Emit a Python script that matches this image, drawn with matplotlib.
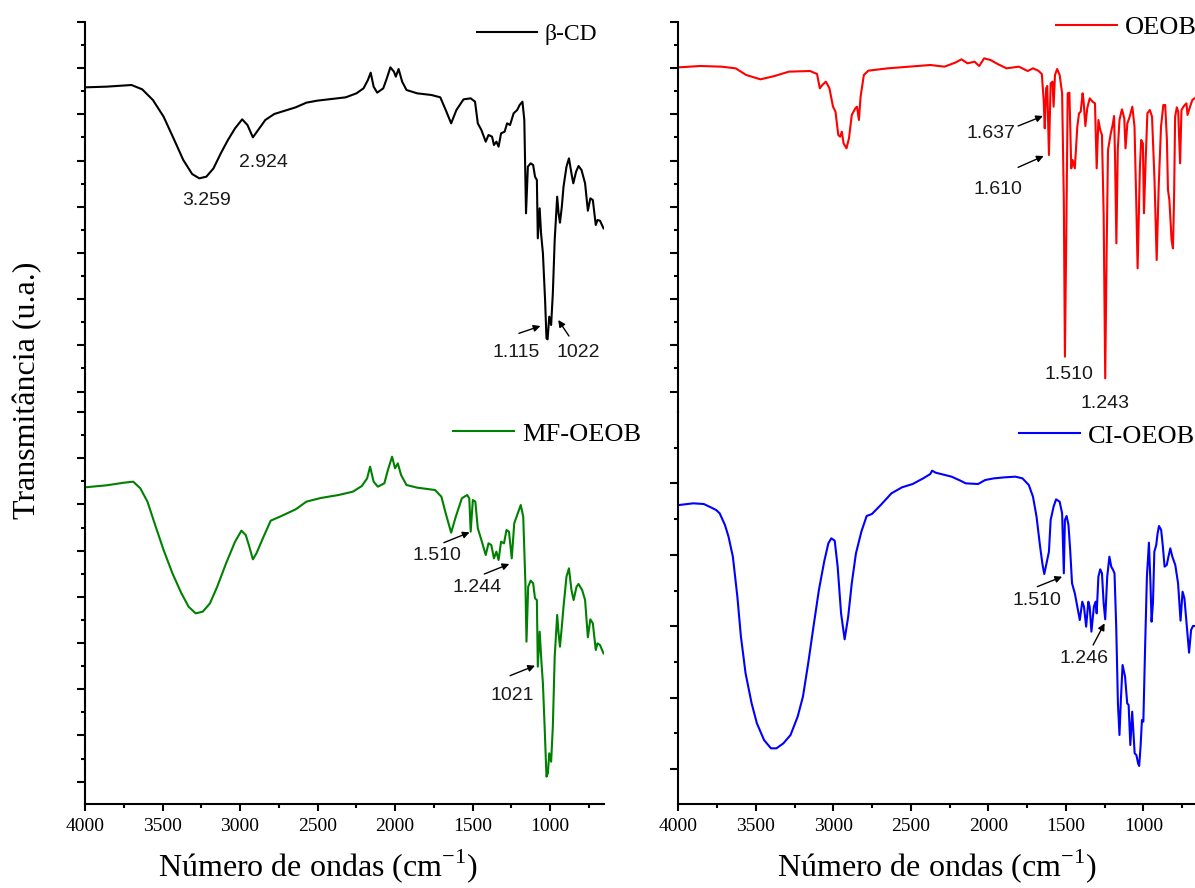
import matplotlib
matplotlib.use("Agg")
import matplotlib.pyplot as plt
from matplotlib.ticker import FixedLocator, MultipleLocator, NullFormatter

# ---------------------------------------------------------------------------
# FTIR spectra: wavenumber (cm-1) and transmittance (arbitrary units)
# ---------------------------------------------------------------------------
bcd_wn = [4000, 3862, 3700, 3631, 3562, 3493, 3424, 3366, 3309, 3263, 3217, 3171,
          3124, 3078, 3032, 2986, 2952, 2917, 2883, 2837, 2779, 2710, 2641, 2572,
          2502, 2410, 2318, 2249, 2203, 2175, 2157, 2138, 2115, 2076, 2053, 2030,
          2007, 1995, 1977, 1954, 1926, 1857, 1765, 1708, 1673, 1638, 1604, 1558,
          1512, 1484, 1466, 1443, 1415, 1397, 1374, 1362, 1346, 1332, 1316, 1293,
          1277, 1258, 1235, 1212, 1196, 1178, 1166, 1155, 1143, 1125, 1109, 1097,
          1085, 1079, 1067, 1058, 1046, 1032, 1023, 1016, 1005, 993, 982, 970,
          954, 945, 936, 924, 913, 894, 878, 862, 850, 832, 816, 797, 774, 756,
          740, 724, 705, 694, 678, 655]
bcd_t = [974, 976, 981, 968, 936, 886, 816, 756, 714, 701, 706, 731,
         776, 816, 851, 878, 861, 824, 846, 876, 894, 904, 914, 928,
         934, 939, 944, 956, 971, 996, 1018, 976, 958, 971, 1001, 1034,
         1021, 1006, 1029, 991, 966, 956, 951, 944, 906, 866, 906, 938,
         941, 931, 866, 846, 811, 831, 826, 801, 811, 796, 836, 841,
         866, 861, 896, 906, 921, 931, 876, 596, 736, 746, 741, 706,
         696, 521, 611, 536, 476, 336, 221, 218, 286, 261, 356, 516,
         646, 596, 568, 616, 676, 736, 761, 716, 686, 721, 738, 726, 686, 604,
         641, 636, 561, 576, 574, 551]

mf_wn = [4000, 3862, 3747, 3689, 3643, 3597, 3551, 3493, 3436, 3378, 3332, 3286,
         3240, 3194, 3147, 3090, 3032, 2991, 2963, 2940, 2917, 2894, 2848, 2802,
         2733, 2641, 2572, 2479, 2364, 2272, 2214, 2180, 2161, 2138, 2111, 2069,
         2046, 2019, 2000, 1982, 1961, 1926, 1857, 1742, 1701, 1673, 1638, 1608,
         1569, 1535, 1521, 1512, 1498, 1482, 1466, 1443, 1415, 1397, 1379, 1362,
         1346, 1332, 1316, 1297, 1281, 1265, 1247, 1231, 1212, 1189, 1173, 1159,
         1152, 1141, 1125, 1109, 1097, 1085, 1079, 1067, 1055, 1046, 1035, 1023,
         1014, 1005, 993, 982, 970, 954, 945, 936, 924, 913, 894, 878, 862, 848,
         829, 816, 793, 774, 756, 740, 724, 705, 694, 678, 655]
mf_t = [950, 956, 964, 967, 947, 907, 842, 762, 692, 632, 592, 572,
        577, 602, 652, 722, 787, 820, 807, 772, 734, 752, 802, 850,
        864, 884, 907, 918, 927, 937, 954, 977, 1012, 967, 952, 962,
        1002, 1042, 1007, 1022, 987, 957, 949, 942, 922, 872, 814, 862,
        917, 927, 917, 817, 912, 907, 827, 792, 747, 782, 777, 737,
        757, 732, 787, 782, 822, 817, 737, 842, 867, 897, 862, 662,
        487, 652, 670, 662, 617, 612, 412, 517, 422, 362, 232, 82,
        92, 152, 127, 232, 442, 567, 512, 472, 532, 592, 682, 707, 642, 612,
        652, 660, 642, 612, 500, 554, 542, 462, 482, 477, 452]

oeob_wn = [3995, 3858, 3721, 3630, 3562, 3470, 3379, 3287, 3150, 3105, 3087, 3071,
           3048, 3025, 3002, 2986, 2968, 2956, 2945, 2934, 2915, 2899, 2881, 2858,
           2847, 2835, 2824, 2803, 2774, 2648, 2511, 2374, 2283, 2214, 2173, 2134,
           2089, 2059, 2027, 1986, 1940, 1883, 1803, 1746, 1712, 1678, 1655, 1643,
           1636, 1627, 1620, 1609, 1598, 1586, 1579, 1570, 1556, 1540, 1524, 1513,
           1506, 1497, 1488, 1477, 1465, 1456, 1442, 1426, 1415, 1404, 1392, 1386,
           1374, 1362, 1346, 1328, 1312, 1301, 1290, 1278, 1267, 1256, 1246, 1237,
           1228, 1210, 1198, 1189, 1183, 1174, 1165, 1154, 1138, 1123, 1115, 1103,
           1088, 1071, 1057, 1046, 1037, 1022, 1014, 1003, 996, 985, 974, 958,
           944, 928, 914, 901, 886, 871, 859, 848, 841, 832, 818, 809, 802, 795,
           784, 775, 763, 754, 738, 722, 715, 700, 684, 670, 655]
oeob_t = [1034, 1038, 1036, 1031, 1011, 998, 1008, 1021, 1023, 1014, 971, 981,
          991, 971, 916, 901, 831, 826, 841, 806, 791, 821, 891, 911,
          916, 876, 946, 1011, 1024, 1031, 1036, 1041, 1036, 1048, 1058, 1046,
          1051, 1038, 1061, 1056, 1044, 1031, 1036, 1023, 1031, 1024, 1014, 936,
          851, 971, 978, 771, 986, 991, 916, 1011, 1029, 1011, 956, 636,
          166, 536, 956, 958, 731, 756, 731, 856, 896, 901, 956, 936,
          858, 911, 941, 931, 926, 731, 876, 846, 831, 591, 101, 476,
          786, 836, 861, 888, 776, 506, 786, 876, 908, 881, 791, 866,
          886, 916, 856, 636, 431, 736, 816, 806, 596, 756, 896, 906,
          886, 696, 456, 676, 856, 921, 921, 816, 666, 636, 516, 491, 636, 886,
          914, 901, 746, 906, 918, 926, 891, 914, 936, 941, 944]

ci_wn = [3995, 3904, 3836, 3790, 3756, 3733, 3699, 3676, 3648, 3619, 3596, 3566,
         3527, 3493, 3447, 3402, 3367, 3322, 3276, 3230, 3196, 3162, 3128, 3093,
         3059, 3032, 3013, 2991, 2972, 2950, 2927, 2904, 2881, 2854, 2819, 2785,
         2751, 2694, 2625, 2557, 2488, 2420, 2374, 2363, 2340, 2306, 2237, 2180,
         2146, 2066, 2020, 1963, 1894, 1826, 1780, 1739, 1712, 1689, 1666, 1650,
         1639, 1625, 1609, 1598, 1579, 1563, 1540, 1524, 1513, 1506, 1495, 1483,
         1472, 1460, 1442, 1426, 1410, 1394, 1383, 1369, 1355, 1346, 1335, 1319,
         1308, 1301, 1290, 1278, 1267, 1256, 1246, 1233, 1219, 1207, 1195, 1186,
         1175, 1164, 1154, 1145, 1134, 1118, 1104, 1095, 1084, 1072, 1065, 1056,
         1045, 1034, 1027, 1018, 1009, 1000, 988, 977, 964, 954, 947, 938,
         929, 917, 908, 899, 885, 874, 863, 849, 838, 826, 813, 794, 776, 760,
         747, 735, 719, 705, 692, 680, 666]
ci_t = [897, 902, 900, 890, 882, 872, 837, 802, 742, 622, 502, 392,
        302, 242, 192, 167, 167, 182, 207, 262, 322, 422, 532, 642,
        727, 782, 797, 790, 712, 572, 494, 562, 662, 752, 817, 864,
        870, 897, 932, 950, 960, 977, 990, 1000, 994, 990, 982, 970,
        962, 960, 972, 977, 980, 982, 977, 957, 922, 862, 772, 717,
        690, 722, 757, 852, 892, 914, 907, 872, 692, 852, 864, 837,
        762, 662, 632, 592, 552, 607, 592, 532, 607, 592, 517, 592,
        607, 572, 682, 704, 692, 602, 554, 682, 742, 712, 702, 692,
        532, 302, 207, 312, 417, 382, 302, 297, 177, 277, 222, 152,
        147, 122, 114, 172, 252, 247, 482, 682, 784, 662, 547, 602,
        757, 777, 812, 834, 822, 772, 712, 717, 742, 767, 742, 717, 662, 550,
        637, 617, 532, 454, 522, 534, 534]

# Peak labels: (text, text position, arrow tail, arrow head) in data units
bcd_labels = [("3.259", (3214, 635), None, None),
              ("2.924", (2848, 749), None, None),
              ("1.115", (1221, 178), (1201, 236), (1062, 258)),
              ("1022", (815, 178), (878, 228), (947, 276))]
mf_labels = [("1.510", (1728, 746), (1685, 784), (1519, 815)),
             ("1.244", (1470, 649), (1424, 690), (1263, 720)),
             ("1021", (1242, 327), (1258, 385), (1097, 415))]
oeob_labels = [("1.637", (1986, 836), (1808, 858), (1648, 888)),
               ("1.610", (1936, 667), (1808, 734), (1643, 768)),
               ("1.510", (1483, 112), None, None),
               ("1.243", (1250, 27), None, None)]
ci_labels = [("1.510", (1689, 611), (1684, 652), (1524, 682)),
             ("1.246", (1385, 436), (1324, 477), (1250, 542))]

# ---------------------------------------------------------------------------
plt.rcParams["font.family"] = ["Liberation Serif", "DejaVu Serif"]
plt.rcParams["mathtext.fontset"] = "custom"
plt.rcParams["mathtext.rm"] = "Liberation Serif"

W, H = 1195, 888
fig = plt.figure(figsize=(W / 100, H / 100), dpi=100)


def rect(x0, y0, x1, y1):
    return [x0 / W, 1 - y1 / H, (x1 - x0) / W, (y1 - y0) / H]


LEFT = (85, 604.3)
RIGHT = (678.3, 1197.6)
TOP = (22, 412)
BOT = (412, 804)

SPINE_W = 1.5
XMAX, XMIN = 4000, 650


def style_axis(ax, top_layer, ytop, majors, minors):
    for s in ("top", "right"):
        ax.spines[s].set_visible(False)
    ax.spines["left"].set_linewidth(SPINE_W)
    ax.set_xlim(XMAX, XMIN)
    ax.set_ylim(0, ytop)
    ax.yaxis.set_major_locator(FixedLocator(majors))
    ax.yaxis.set_minor_locator(FixedLocator(minors))
    ax.yaxis.set_major_formatter(NullFormatter())
    ax.tick_params(axis="y", which="major", direction="out", length=5.8, width=1.5)
    ax.tick_params(axis="y", which="minor", direction="out", length=3.0, width=1.5)
    if top_layer:
        ax.spines["bottom"].set_visible(False)
        ax.tick_params(axis="x", which="both", bottom=False, labelbottom=False)
    else:
        ax.spines["bottom"].set_linewidth(SPINE_W)
        ax.xaxis.set_major_locator(MultipleLocator(500))
        ax.xaxis.set_minor_locator(MultipleLocator(250))
        ax.tick_params(axis="x", which="major", direction="out", length=5.3,
                       width=1.5, labelsize=14, pad=5)
        ax.tick_params(axis="x", which="minor", direction="out", length=3.0, width=1.5)
    ax.patch.set_alpha(0)


def annotate(ax, labels):
    for text, pos, tail, head in labels:
        ax.text(pos[0], pos[1], text, ha="center", va="center", fontsize=14,
                family=["Liberation Sans", "DejaVu Sans"], color="#1a1a1a")
        if tail is not None:
            ax.annotate("", xy=head, xytext=tail,
                        arrowprops=dict(arrowstyle="-|>", color="black", lw=1.0,
                                        mutation_scale=10, shrinkA=0, shrinkB=0))


top_major = [1170 - 138.6 * k for k in range(9)]
top_minor = [1100.7 - 138.6 * k for k in range(8)]
bl_major = [67 + 138.6 * k for k in range(9)]
bl_minor = [136.3 + 138.6 * k for k in range(8)]
br_major = [105 + 214.25 * k for k in range(5)]
br_minor = [212 + 214.25 * k for k in range(5)]

ax_bcd = fig.add_axes(rect(LEFT[0], TOP[0], LEFT[1], TOP[1]))
ax_mf = fig.add_axes(rect(LEFT[0], BOT[0], LEFT[1], BOT[1]))
ax_oeob = fig.add_axes(rect(RIGHT[0], TOP[0], RIGHT[1], TOP[1]))
ax_ci = fig.add_axes(rect(RIGHT[0], BOT[0], RIGHT[1], BOT[1]))

style_axis(ax_bcd, True, 1170, top_major, top_minor)
style_axis(ax_mf, False, 1176, bl_major, bl_minor)
style_axis(ax_oeob, True, 1170, top_major, top_minor)
style_axis(ax_ci, False, 1176, br_major, br_minor)

series = [
    (ax_bcd, bcd_wn, bcd_t, "black", "\u03b2-CD", 17, (0.755, 0.969), 2.55, bcd_labels),
    (ax_mf, mf_wn, mf_t, "#008000", "MF-OEOB", 19, (0.709, 0.944), 2.3, mf_labels),
    (ax_oeob, oeob_wn, oeob_t, "#ff0000", "OEOB", 19, (0.727, 0.987), 2.3, oeob_labels),
    (ax_ci, ci_wn, ci_t, "#0000ff", "CI-OEOB", 19, (0.656, 0.939), 2.3, ci_labels),
]

for ax, wn, t, color, name, fs, anchor, hl, labels in series:
    line, = ax.plot(wn, t, color=color, lw=1.5, label=name)
    ax.legend(handles=[line], loc="center left", bbox_to_anchor=anchor,
              frameon=False, fontsize=fs, handlelength=hl, handletextpad=0.3,
              borderpad=0, borderaxespad=0)
    annotate(ax, labels)

xlabel = "N\u00famero de ondas (cm$^{\\mathregular{-1}}$)"
fig.text(318 / W, 1 - 866 / H, xlabel, ha="center", va="center", fontsize=23)
fig.text(937 / W, 1 - 866 / H, xlabel, ha="center", va="center", fontsize=23)
fig.text(28 / W, 1 - 390 / H, "Transmit\u00e2ncia (u.a.)", ha="center", va="center",
         rotation=90, fontsize=23)

fig.savefig("out.png", dpi=100)
